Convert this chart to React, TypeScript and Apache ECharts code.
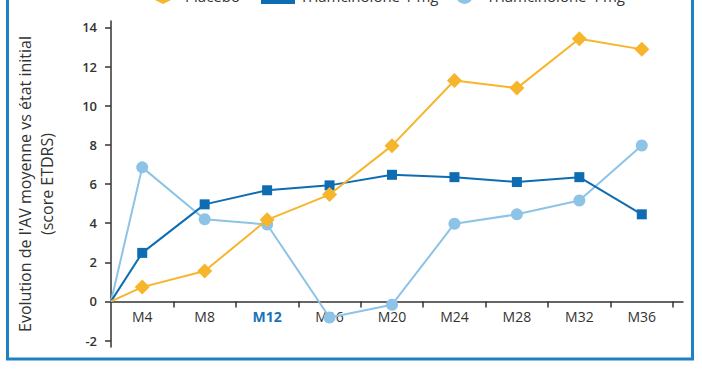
import React, { useEffect, useRef } from "react";
import * as echarts from "echarts";

const categories = ["M4", "M8", "M12", "M16", "M20", "M24", "M28", "M32", "M36"];
const highlightedCategory = "M12";
const baselineX = -0.5; // baseline point sits at the start of the axis
const baselineValue = 0;
const placebo = [0.73, 1.55, 4.17, 5.46, 7.96, 11.29, 10.9, 13.42, 12.88];
const triam1 = [2.48, 4.96, 5.68, 5.93, 6.47, 6.35, 6.1, 6.35, 4.45];
const triam4 = [6.85, 4.2, 3.93, -0.82, -0.17, 3.97, 4.45, 5.16, 7.97];
const yTicks = [-2, 0, 2, 4, 6, 8, 10, 12, 14];
const seriesNames = ["Placebo", "Triamcinolone 1 mg", "Triamcinolone 4 mg"];
const yAxisName = "Evolution de l'AV moyenne vs état initial\n(score ETDRS)";

const FONT = "Open Sans";
const Y_MIN = -2.33;
const Y_MAX = 14.33;
const GRID = { left: 111, right: 19, top: 21, bottom: 23 };
const H = 370;

function toData(values: number[]) {
  return [
    { value: [baselineX, baselineValue], symbol: "none" },
    ...values.map((v, i) => ({ value: [i, v] })),
  ];
}

export default function App() {
  const ref = useRef<HTMLDivElement>(null);
  useEffect(() => {
    if (!ref.current) return;
    const chart = echarts.init(ref.current, undefined, { renderer: "svg" });
    const colors = ["#F6B52B", "#0E6DB2", "#8DC3E7"];
    const symbols = ["diamond", "rect", "circle"];
    const sizes = [15, 10, 12];
    const all = [placebo, triam1, triam4];
    const legendLefts = [141, 256, 451];
    const gridH = H - GRID.top - GRID.bottom;
    const zeroOffset = -gridH * (0 - Y_MIN) / (Y_MAX - Y_MIN);
    chart.setOption({
      animation: false,
      backgroundColor: "#fff",
      textStyle: { fontFamily: FONT },
      legend: seriesNames.map((n, i) => ({
        top: -18,
        left: legendLefts[i],
        itemWidth: 34,
        itemHeight: 17,
        symbolKeepAspect: true,
        textStyle: { fontSize: 15, color: "#333", fontFamily: FONT },
        data: [{ name: n, icon: symbols[i] }],
      })),
      grid: GRID,
      xAxis: {
        type: "value",
        min: -0.5,
        max: 8.66,
        offset: zeroOffset,
        splitLine: { show: false },
        axisLine: { show: true, onZero: false, lineStyle: { color: "#333", width: 1.5 } },
        axisTick: {
          show: true,
          length: 6,
          lineStyle: { color: "#333", width: 1.5 },
          customValues: categories.map((_, i) => i + 0.5),
        },
        axisLabel: {
          margin: 8,
          fontSize: 14,
          color: "#333",
          fontFamily: FONT,
          customValues: categories.map((_, i) => i),
          formatter: (v: number) => {
            const c = categories[Math.round(v)] ?? "";
            return c === highlightedCategory ? `{hl|${c}}` : c;
          },
          rich: {
            hl: { color: "#1A72B8", fontWeight: "bold", fontSize: 14, fontFamily: FONT },
          },
        },
      },
      yAxis: {
        type: "value",
        min: Y_MIN,
        max: Y_MAX,
        splitLine: { show: false },
        name: yAxisName,
        nameLocation: "middle",
        nameRotate: 90,
        nameGap: 53,
        nameTextStyle: { fontSize: 16, color: "#333", lineHeight: 22, fontFamily: FONT },
        axisLine: { show: true, onZero: false, lineStyle: { color: "#333", width: 1.5 } },
        axisTick: {
          show: true,
          length: 6,
          lineStyle: { color: "#333", width: 1.5 },
          customValues: yTicks,
        },
        axisLabel: {
          margin: 14,
          fontSize: 13,
          color: "#333",
          fontWeight: 600,
          fontFamily: FONT,
          customValues: yTicks,
          formatter: (v: number) => String(Math.round(v)),
        },
      },
      graphic: [
        {
          type: "rect",
          shape: { x: 7.5, y: -20, width: 685, height: 379 },
          style: { fill: "none", stroke: "#1F80C4", lineWidth: 3 },
          silent: true,
        },
      ],
      series: all.map((vals, i) => ({
        name: seriesNames[i],
        type: "line",
        data: toData(vals),
        symbol: symbols[i],
        symbolSize: sizes[i],
        showAllSymbol: true,
        color: colors[i],
        lineStyle: { color: colors[i], width: 2 },
        itemStyle: { color: colors[i] },
        z: i === 2 ? 2 : i === 1 ? 3 : 4,
      })),
    });
    return () => chart.dispose();
  }, []);
  return (
    <div
      ref={ref}
      style={{ position: "fixed", left: 0, top: 0, width: 702, height: 370 }}
    />
  );
}
